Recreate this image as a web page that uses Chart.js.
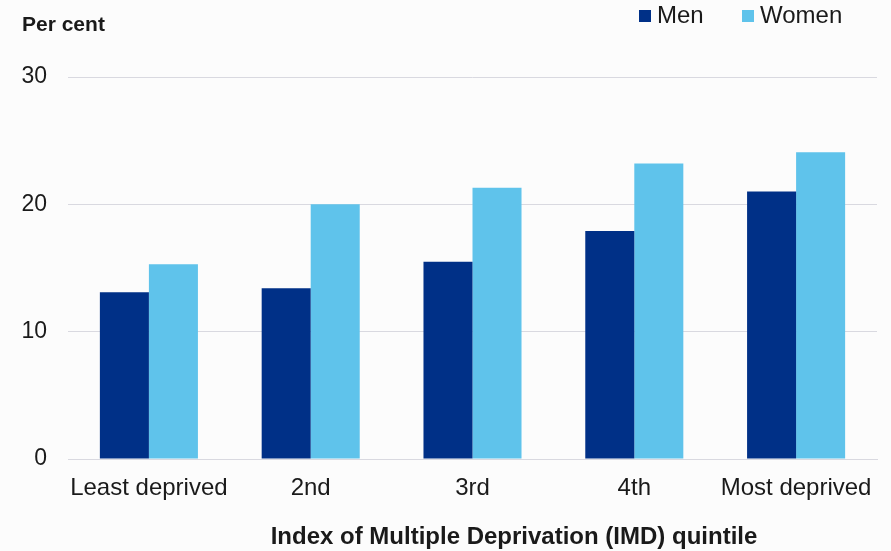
<!DOCTYPE html>
<html>
<head>
<meta charset="utf-8">
<script src="https://cdn.jsdelivr.net/npm/chart.js@4"></script>
<style>
  html, body { margin: 0; padding: 0; background: #fcfcfc; }
  #wrap { width: 891px; height: 551px; position: relative; }
</style>
</head>
<body>
<div id="wrap"><canvas id="imdChart"></canvas></div>
<script>
const categories = ['Least deprived', '2nd', '3rd', '4th', 'Most deprived'];
const men = [13.1, 13.4, 15.5, 17.9, 21.0];
const women = [15.3, 20.0, 21.3, 23.2, 24.1];
const yTicks = [0, 10, 20, 30];

const FONT = "'Liberation Sans', Arial, Helvetica, sans-serif";

// background, y-axis title, x-axis title and legend drawn as text
const extras = {
    id: 'extras',
    beforeDraw(chart) {
        const c = chart.ctx;
        c.save();
        c.fillStyle = '#fcfcfc';
        c.fillRect(0, 0, chart.width, chart.height);
        c.restore();
    },
    afterDraw(chart) {
        const c = chart.ctx;
        c.save();
        c.fillStyle = '#1a1a1a';
        c.textBaseline = 'middle';
        c.font = 'bold 21px ' + FONT;
        c.textAlign = 'left';
        c.fillText('Per cent', 22, 25);
        c.font = 'bold 24px ' + FONT;
        c.textAlign = 'center';
        c.fillText('Index of Multiple Deprivation (IMD) quintile', 514, 537);

        // legend
        const items = chart.data.datasets;
        const xs = [639, 742];
        c.font = '24px ' + FONT;
        c.textAlign = 'left';
        items.forEach((ds, i) => {
            c.fillStyle = ds.backgroundColor;
            c.fillRect(xs[i], 10, 12, 12);
            c.fillStyle = '#1a1a1a';
            c.fillText(ds.label, xs[i] + 18, 16);
        });
        c.restore();
    }
};

new Chart(document.getElementById('imdChart'), {
    type: 'bar',
    data: {
        labels: categories,
        datasets: [
            { label: 'Men', data: men, backgroundColor: '#003087' },
            { label: 'Women', data: women, backgroundColor: '#5fc3eb' }
        ]
    },
    options: {
        responsive: true,
        maintainAspectRatio: false,
        animation: false,
        layout: { padding: { left: 0, right: 14, top: 77, bottom: 0 } },
        datasets: { bar: { categoryPercentage: 0.606, barPercentage: 1.0 } },
        plugins: { legend: { display: false }, tooltip: { enabled: false } },
        scales: {
            x: {
                grid: { display: false, drawTicks: false },
                border: { display: true, color: '#d9d9e0', width: 1 },
                ticks: { color: '#1a1a1a', font: { family: FONT, size: 24 }, padding: 15, maxRotation: 0 },
                afterFit(scale) { scale.height = 92; }
            },
            y: {
                min: 0, max: 30,
                afterBuildTicks(scale) { scale.ticks = yTicks.map(v => ({ value: v })); },
                grid: { color: '#d9d9e0', drawTicks: false },
                border: { display: false },
                ticks: { color: '#1a1a1a', font: { family: FONT, size: 23 }, padding: 21 },
                afterFit(scale) { scale.width = 68; }
            }
        }
    },
    plugins: [extras]
});
</script>
</body>
</html>
